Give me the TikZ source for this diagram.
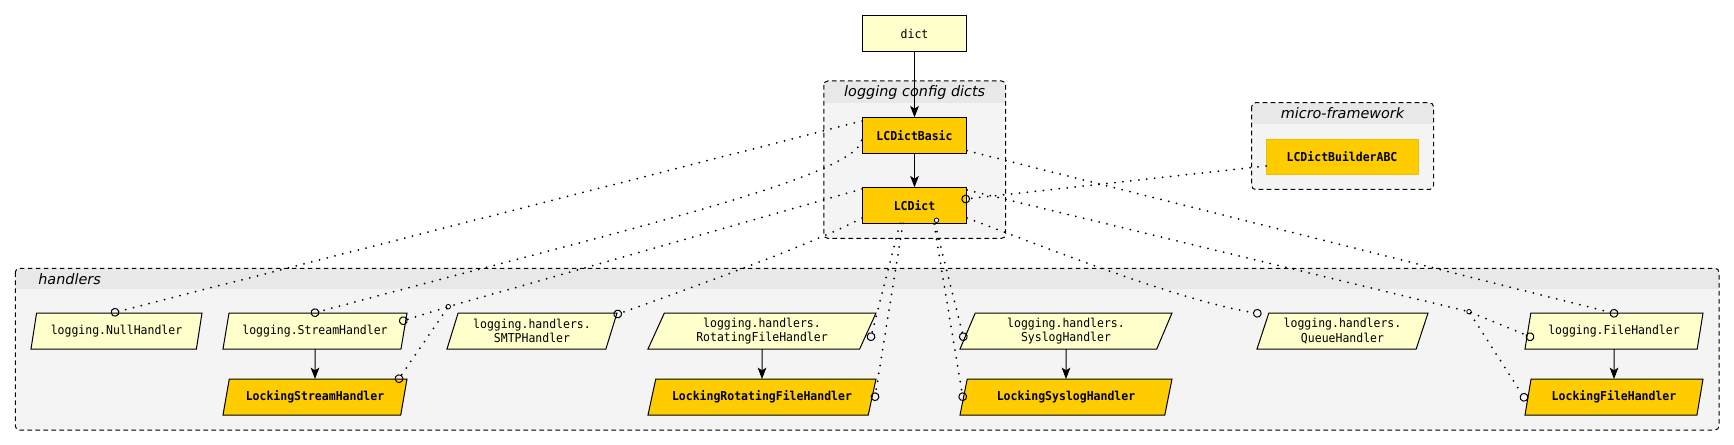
\documentclass[tikz,border=0pt]{standalone}
\usepackage{fontspec}
\setmainfont{DejaVu Sans}
\setmonofont[FakeStretch=0.937]{DejaVu Sans Mono}
\usetikzlibrary{arrows.meta,shapes.geometric,calc}
\definecolor{lyellow}{RGB}{255,255,204}
\definecolor{gold}{RGB}{255,204,0}
\definecolor{clbody}{RGB}{244,244,244}
\definecolor{clband}{RGB}{232,232,232}
\definecolor{goldedge}{RGB}{236,192,0}
\begin{document}
\begin{tikzpicture}[x=0.75pt,y=-0.75pt,
  every node/.style={inner sep=0pt, outer sep=0pt},
  monofont/.style={font=\fontsize{9.2}{10.8}\selectfont\ttfamily, align=center},
  boldfont/.style={font=\fontsize{9.2}{10.8}\selectfont\ttfamily\bfseries, align=center},
  boxplain/.style={monofont, rectangle, draw=black, line width=0.75pt, fill=lyellow,
    minimum width=78.4pt, minimum height=27pt},
  boxgold/.style={boxplain, boldfont, fill=gold},
  para/.style n args={3}{monofont, trapezium, trapezium left angle=#2,
    trapezium right angle=#3, trapezium stretches body, draw=black, line width=0.75pt,
    fill=lyellow, minimum width=#1, minimum height=27pt},
  paragold/.style n args={3}{para={#1}{#2}{#3}, boldfont, fill=gold},
  clusterborder/.style={draw=black, line width=0.75pt, dash pattern=on 3.5pt off 2.5pt,
    rounded corners=3pt},
  clustertitle/.style={font=\fontsize{10.8}{13}\selectfont\itshape},
  dep/.style={line width=1.5pt, dash pattern=on 0pt off 6pt, line cap=round,
    -{Circle[open, length=6.6pt, width=6.6pt, line width=0.75pt]}, shorten >=-3.3pt},
  depline/.style={line width=1.5pt, dash pattern=on 0pt off 6pt, line cap=round},
  junction/.style={circle, draw=black, fill=white, line width=0.6pt, minimum size=3.4pt},
  inh/.style={line width=0.75pt, -{Stealth[length=8.5pt, width=6.5pt, inset=2pt]}}
]
\useasboundingbox (0,0) rectangle (1734,445);

% ---------- clusters ----------
\begin{scope}
  \fill[clbody, rounded corners=3pt] (823.8,81) rectangle (1005.7,238.3);
  \clip[rounded corners=3pt] (823.8,81) rectangle (1005.7,238.3);
  \fill[clband] (823.8,81) rectangle (1005.7,102.7);
\end{scope}
\draw[clusterborder] (823.8,81) rectangle (1005.7,238.3);

\begin{scope}
  \fill[clbody, rounded corners=3pt] (1251.6,102.7) rectangle (1433.5,189.5);
  \clip[rounded corners=3pt] (1251.6,102.7) rectangle (1433.5,189.5);
  \fill[clband] (1251.6,102.7) rectangle (1433.5,124);
\end{scope}
\draw[clusterborder] (1251.6,102.7) rectangle (1433.5,189.5);

\begin{scope}
  \fill[clbody, rounded corners=3pt] (15.3,268.3) rectangle (1719,430);
  \clip[rounded corners=3pt] (15.3,268.3) rectangle (1719,430);
  \fill[clband] (15.3,268.3) rectangle (1719,289.3);
\end{scope}
\draw[clusterborder] (15.3,268.3) rectangle (1719,430);

\node[clustertitle] (cfgtitle) at (914.7,92.5) {logging config dicts};
\node[clustertitle] (mftitle) at (1342.5,113.5) {micro-framework};
\node[clustertitle, anchor=west] (hdtitle) at (38.3,279) {handlers};

% ---------- nodes ----------
\node[boxplain] (dict) at (914.5,33.5) {dict};
\node[boxgold] (basic) at (914.5,135.3) {LCDictBasic};
\node[boxgold] (lcd) at (914.5,205.3) {LCDict};
\node[boxgold, draw=goldedge, minimum width=114pt, minimum height=26.25pt] (builder)
  at (1342,156.8) {LCDictBuilderABC};

\node[para={128.25pt}{65}{115}] (null) at (116.5,331) {logging.NullHandler};
\node[para={138pt}{63.4}{116.6}] (stream) at (315,331) {logging.StreamHandler};
\node[paragold={138pt}{63.4}{116.6}] (lstream) at (315,397) {LockingStreamHandler};
\node[para={127.5pt}{65.1}{114.9}] (smtp) at (532,331) {logging.handlers.\\SMTPHandler};
\node[para={171pt}{58.2}{121.8}] (rot) at (762,331) {logging.handlers.\\RotatingFileHandler};
\node[paragold={171pt}{58.2}{121.8}] (lrot) at (762,397) {LockingRotatingFileHandler};
\node[para={159pt}{60}{120}] (sys) at (1066,331) {logging.handlers.\\SyslogHandler};
\node[paragold={159pt}{60}{120}] (lsys) at (1066,397) {LockingSyslogHandler};
\node[para={128.25pt}{65}{115}] (queue) at (1342.5,331) {logging.handlers.\\QueueHandler};
\node[para={133.5pt}{64.2}{115.8}] (file) at (1614,331) {logging.FileHandler};
\node[paragold={133.5pt}{64.2}{115.8}] (lfile) at (1614,397) {LockingFileHandler};

% ---------- solid arrows ----------
\draw[inh] (dict) -- (basic);
\draw[inh] (basic) -- (lcd);
\draw[inh] (stream) -- (lstream);
\draw[inh] (rot) -- (lrot);
\draw[inh] (sys) -- (lsys);
\draw[inh] (file) -- (lfile);

% ---------- dotted dependencies ----------
\node[junction] (j1) at (448.3,306.7) {};
\node[junction] (j3) at (1469,311.7) {};

\draw[dep] ($(basic.center)+(-52.5,-14.3)$) -- ($(null.center)+(-1.5,-18.7)$);
\draw[dep] ($(basic.center)+(-53,5)$) .. controls (855.5,178.3) and (600,235.7) ..
  ($(stream.center)+(0,-18.3)$);
\draw[depline] ($(lcd.center)+(-52.5,-16.3)$) -- (j1);
\draw[dep] (j1) -- ($(stream.center)+(88.3,-10.3)$);
\draw[dep] (j1) -- ($(lstream.center)+(84,-18.3)$);
\draw[dep] ($(lcd.center)+(-52.5,12.7)$) .. controls (822,240) and (697.7,286) ..
  ($(smtp.center)+(85.7,-17)$);
\draw[dep] ($(lcd.center)+(-14.5,18)$) -- ($(rot.center)+(109,5.7)$);
\draw[dep] ($(lcd.center)+(-11.5,18)$) -- ($(lrot.center)+(113,-0.3)$);
\draw[dep] ($(lcd.center)+(20.5,18.5)$) -- ($(sys.center)+(-102.7,5.7)$);
\draw[dep] ($(lcd.center)+(19.5,18.5)$) -- ($(lsys.center)+(-103.3,-0.3)$);
\draw[dep] ($(lcd.center)+(52.5,12.7)$) .. controls (1047,248) and (1177,300) ..
  ($(queue.center)+(-85.2,-17.7)$);
\draw[dep] ($(builder.center)+(-76,9.2)$) -- ($(lcd.center)+(51.2,-6.3)$);
\draw[depline] ($(lcd.center)+(52.5,-15.3)$) -- (j3);
\draw[dep] (j3) -- ($(file.center)+(-84,5.7)$);
\draw[dep] (j3) -- ($(lfile.center)+(-90,0.3)$);
\draw[dep] ($(basic.center)+(52.5,15.4)$) -- ($(file.center)+(0,-17.7)$);

\node[junction] (j2) at (936.5,220.3) {};
\end{tikzpicture}
\end{document}
